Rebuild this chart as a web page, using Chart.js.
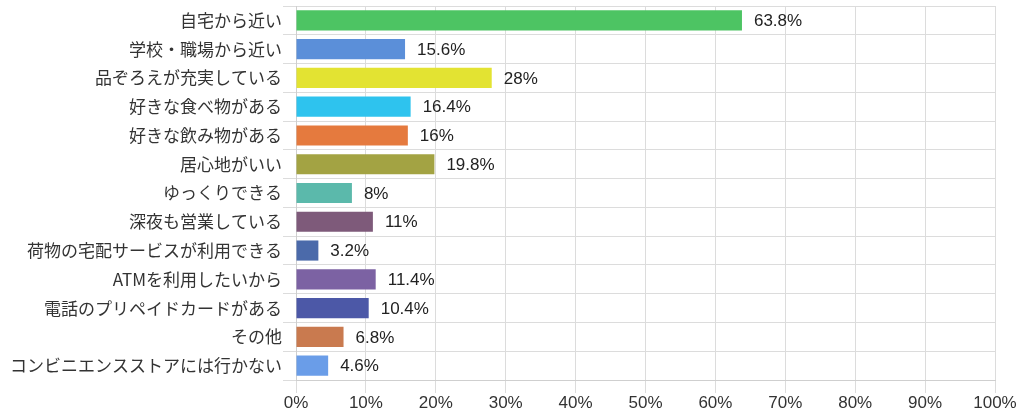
<!DOCTYPE html>
<html><head><meta charset="utf-8">
<script src="https://cdn.jsdelivr.net/npm/chart.js@4"></script>
<style>html,body{margin:0;padding:0;background:#fff;}canvas{display:block;}</style>
</head><body>
<canvas id="c" width="1024" height="420"></canvas>
<script>
const categories = ["自宅から近い","学校・職場から近い","品ぞろえが充実している","好きな食べ物がある","好きな飲み物がある","居心地がいい","ゆっくりできる","深夜も営業している","荷物の宅配サービスが利用できる","ATMを利用したいから","電話のプリペイドカードがある","その他","コンビニエンスストアには行かない"];
const values = [63.8,15.6,28,16.4,16,19.8,8,11,3.2,11.4,10.4,6.8,4.6];
const barColors = ["#4dc463","#5b8fd9","#e3e332","#2ec3ee","#e57a3e","#a3a343","#5bb9ab","#7e5a7a","#4b6aaa","#7c62a3","#4c58a7","#c97a4f","#6a9de8"];
const xTicks = [0,10,20,30,40,50,60,70,80,90,100];

const labelPlugin = {
  id: 'valueLabels',
  afterDatasetsDraw(chart) {
    const ctx = chart.ctx;
    const meta = chart.getDatasetMeta(0);
    ctx.save();
    ctx.font = '17px "Liberation Sans", Arial, sans-serif';
    ctx.fillStyle = '#222';
    ctx.textAlign = 'left';
    ctx.textBaseline = 'middle';
    meta.data.forEach((bar, i) => {
      ctx.fillText(values[i] + '%', bar.x + 12, bar.y + 1);
    });
    ctx.restore();
  }
};

new Chart(document.getElementById('c'), {
  type: 'bar',
  data: {
    labels: categories,
    datasets: [{ data: values, backgroundColor: barColors, borderWidth: 0, barPercentage: 0.7, categoryPercentage: 1 }]
  },
  options: {
    indexAxis: 'y',
    responsive: false,
    animation: false,
    devicePixelRatio: 1,
    layout: { padding: { top: 6, right: 29, left: 0, bottom: 0 } },
    plugins: { legend: { display: false }, tooltip: { enabled: false } },
    scales: {
      x: {
        min: 0, max: 100,
        afterBuildTicks(scale) { scale.ticks = xTicks.map(v => ({ value: v })); },
        afterFit(scale) { scale.height = 40; },
        grid: { color: '#dcdcdc', tickLength: 13 },
        border: { color: '#cfcfcf' },
        ticks: {
          padding: 0,
          color: '#333',
          font: { size: 17, family: '"Liberation Sans", Arial, sans-serif' },
          callback: v => v + '%',
          maxRotation: 0
        }
      },
      y: {
        afterFit(scale) { scale.width = 296; scale.paddingTop = 0; scale.paddingBottom = 0; },
        grid: { color: '#dcdcdc', tickLength: 13, offset: true },
        border: { color: '#cfcfcf' },
        ticks: {
          padding: 1,
          color: '#333',
          font: { size: 17, family: '"Noto Sans CJK JP", sans-serif' }
        }
      }
    }
  },
  plugins: [labelPlugin]
});
</script>
</body></html>
